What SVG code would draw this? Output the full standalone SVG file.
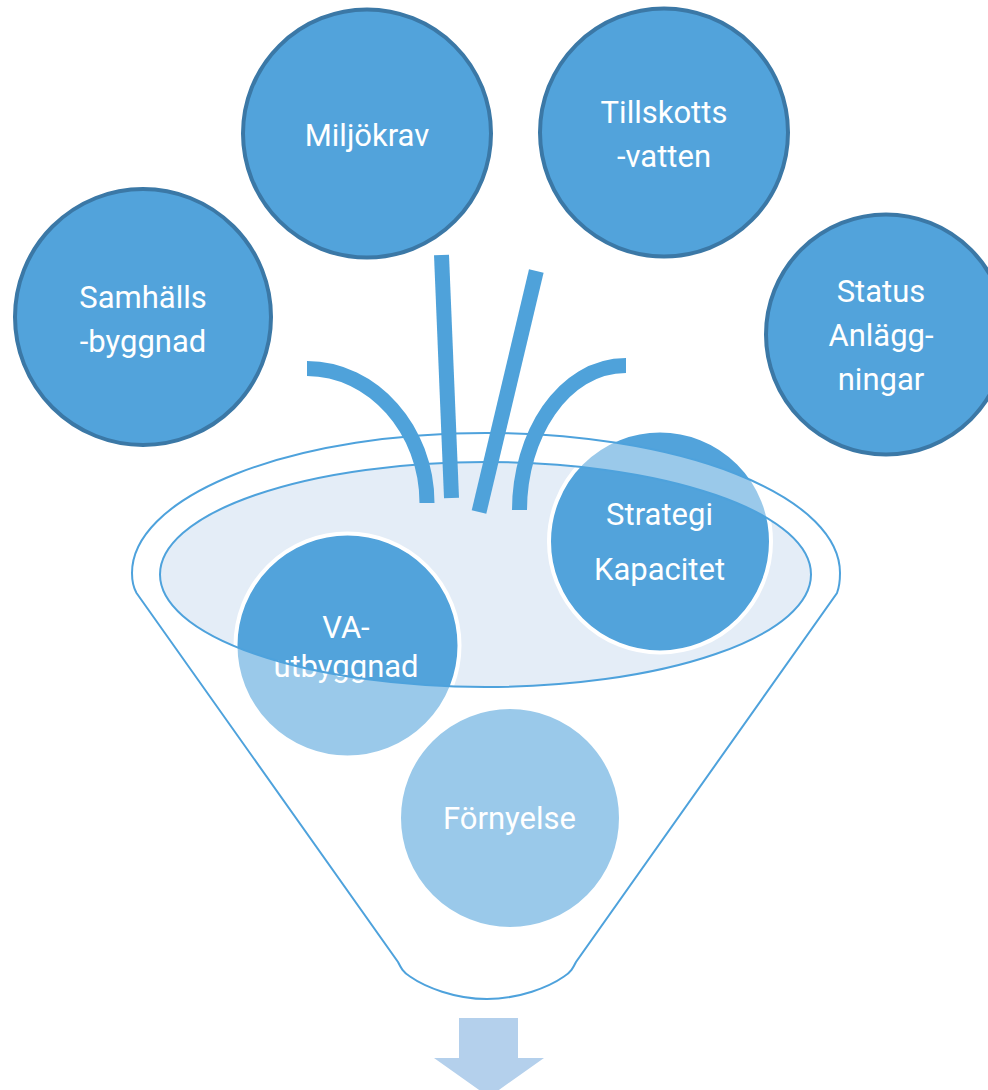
<svg xmlns="http://www.w3.org/2000/svg" width="988" height="1090" viewBox="0 0 988 1090">
  <style>
    .topnode { fill: #52a3db; stroke: #3b78a6; stroke-width: 4; }
    .innode { fill: #52a3db; stroke: #ffffff; stroke-width: 4; }
    .lbl { font-family: Roboto, "Liberation Sans", sans-serif; font-size: 31px; fill: #ffffff; text-anchor: middle; }
    .bar { fill: none; stroke: #4fa2da; stroke-width: 15; stroke-linecap: butt; }
    .rim { fill: none; stroke: #4ea2dc; stroke-width: 2; }
  </style>
  <rect width="988" height="1090" fill="#ffffff"/>

  <!-- inputs above the funnel -->
  <g id="samhallsbyggnad">
    <circle class="topnode" cx="143" cy="317" r="128"/>
    <text class="lbl" x="143" y="308">Samhälls</text>
    <text class="lbl" x="143" y="352">-byggnad</text>
  </g>
  <g id="miljokrav">
    <circle class="topnode" cx="367" cy="133.5" r="124"/>
    <text class="lbl" x="367" y="146">Miljökrav</text>
  </g>
  <g id="tillskottsvatten">
    <circle class="topnode" cx="664" cy="132.5" r="124"/>
    <text class="lbl" x="664" y="123">Tillskotts</text>
    <text class="lbl" x="664" y="167">-vatten</text>
  </g>
  <g id="status-anlaggningar">
    <circle class="topnode" cx="886" cy="334.5" r="120"/>
    <text class="lbl" x="881" y="302">Status</text>
    <text class="lbl" x="881" y="346">Anlägg-</text>
    <text class="lbl" x="881" y="390">ningar</text>
  </g>

  <!-- funnel mouth (inner surface) -->
  <ellipse id="funnel-mouth" cx="485.5" cy="574.5" rx="325.5" ry="112.5" fill="#e4edf7"/>

  <!-- items inside the funnel -->
  <g id="va-utbyggnad">
    <circle class="innode" cx="347.5" cy="645.5" r="112"/>
    <text class="lbl" x="346" y="638">VA-</text>
    <text class="lbl" x="346" y="677">utbyggnad</text>
  </g>
  <g id="strategi-kapacitet">
    <circle class="innode" cx="660" cy="541.5" r="111"/>
    <text class="lbl" x="659.5" y="525">Strategi</text>
    <text class="lbl" x="659.5" y="580">Kapacitet</text>
  </g>
  <g id="fornyelse">
    <circle class="innode" cx="510" cy="818" r="111"/>
    <text class="lbl" x="509.5" y="829">Förnyelse</text>
  </g>

  <!-- funnel body: translucent wall over everything below the mouth -->
  <defs>
    <path id="funnel-outline" d="M 136.5 593 L 398 962 C 401 968 403 972 410 976.5 C 425 987 455 999 487 999 C 519 999 549 987 564 976.5 C 571 972 573 968 576 962 L 837 593 Q 840 585 840 573 A 354 140 0 0 0 132 573 Q 132 585 136.5 593 Z"/>
  </defs>
  <g id="funnel">
    <path d="M 136.5 593 L 398 962 C 401 968 403 972 410 976.5 C 425 987 455 999 487 999 C 519 999 549 987 564 976.5 C 571 972 573 968 576 962 L 837 593 Q 840 585 840 573 A 354 140 0 0 0 132 573 Q 132 585 136.5 593 Z M 160 574.5 A 325.5 112.5 0 1 0 811 574.5 A 325.5 112.5 0 1 0 160 574.5 Z" fill="#ffffff" fill-opacity="0.42" fill-rule="evenodd" stroke="none"/>
    <use href="#funnel-outline" class="rim"/>
    <ellipse class="rim" cx="485.5" cy="574.5" rx="325.5" ry="112.5"/>
  </g>

  <!-- streams feeding into the funnel -->
  <g id="connectors">
    <path class="bar" d="M 307 368.5 C 373 368.5 427 430 427 503"/>
    <path class="bar" d="M 441.5 255 L 451.5 498"/>
    <path class="bar" d="M 536.3 271 L 479 512"/>
    <path class="bar" d="M 626 365.5 C 562 365.5 519.5 437 519.5 510"/>
  </g>

  <!-- output arrow -->
  <polygon id="output-arrow" points="459,1018 518,1018 518,1058 544,1058 489,1097 434,1058 459,1058" fill="#b4d0ec"/>
</svg>
